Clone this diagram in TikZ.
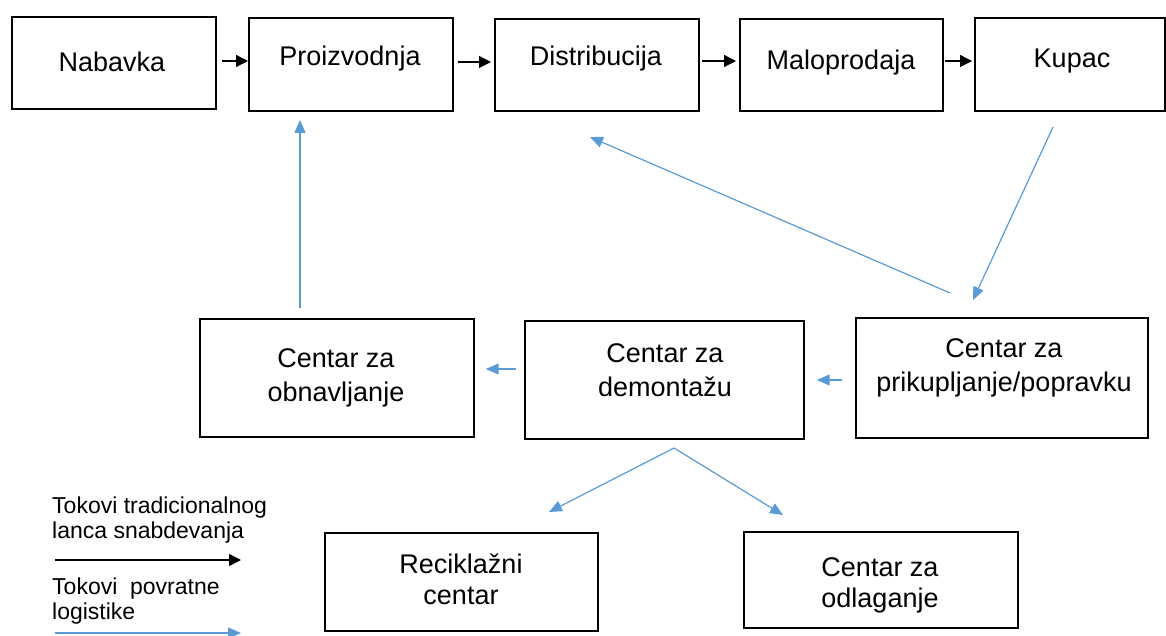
\documentclass[tikz,border=0pt]{standalone}
\usepackage{fontspec}
\setmainfont{Liberation Sans}
\usetikzlibrary{arrows.meta}
\definecolor{rlblue}{HTML}{5B9BD5}
\begin{document}
\begin{tikzpicture}[x=1pt,y=-1pt,
  box/.style={draw=black, line width=1.7pt, anchor=north west, inner sep=0pt},
  txt/.style={font=\fontsize{27}{34}\selectfont, align=center, anchor=base, inner sep=0pt},
  txtb/.style={font=\fontsize{27}{31}\selectfont, align=center, anchor=base, inner sep=0pt},
  leg/.style={font=\fontsize{23}{24.5}\selectfont, align=left, anchor=base west, inner sep=0pt},
  blk/.style={draw=black, line width=1.3pt, -{Triangle[length=12pt,width=12pt]}},
  blu/.style={draw=rlblue, line width=1.2pt, -{Triangle[length=13pt,width=11pt]}}]
\path[use as bounding box, fill=white] (0,0) rectangle (1166,636);

% top row
\node[box, minimum width=204pt, minimum height=92pt] (nab) at (11,16) {};
\node[box, minimum width=204pt, minimum height=93pt] (pro) at (248,17) {};
\node[box, minimum width=204pt, minimum height=92pt] (dis) at (494,18) {};
\node[box, minimum width=203pt, minimum height=92pt] (mal) at (739,18) {};
\node[box, minimum width=190pt, minimum height=93pt] (kup) at (974,17) {};
\node[txt] (tnab) at (112,72) {Nabavka};
\node[txt] (tpro) at (350,66) {Proizvodnja};
\node[txt] (tdis) at (596,66) {Distribucija};
\node[txt] (tmal) at (841,70) {Maloprodaja};
\node[txt] (tkup) at (1072,68) {Kupac};

% middle row
\node[box, minimum width=274pt, minimum height=118pt] (obn) at (199,318) {};
\node[box, minimum width=279pt, minimum height=118pt] (dem) at (524,320) {};
\node[box, minimum width=292pt, minimum height=120pt] (pri) at (855,317) {};
\node[txt] (tobn) at (336,401) {Centar za\\obnavljanje};
\node[txt] (tdem) at (665,396) {Centar za\\demontažu};
\node[txt] (tpri) at (1004,391) {Centar za\\prikupljanje/popravku};

% bottom row
\node[box, minimum width=273pt, minimum height=98pt] (rec) at (324,532) {};
\node[box, minimum width=274pt, minimum height=96pt] (odl) at (743,531) {};
\node[txtb] (trec) at (461,604) {Reciklažni\\centar};
\node[txtb] (todl) at (880,607) {Centar za\\odlaganje};

% black arrows
\draw[blk] ([xshift=5pt]nab.east |- 0,61) -- (pro.west |- 0,61);
\draw[blk] ([xshift=4pt]pro.east |- 0,62) -- ([xshift=-3pt]dis.west |- 0,62);
\draw[blk] ([xshift=2pt]dis.east |- 0,61) -- ([xshift=-3pt]mal.west |- 0,61);
\draw[blk] ([xshift=1pt]mal.east |- 0,61) -- ([xshift=-2pt]kup.west |- 0,61);

% blue arrows
\coordinate (apex) at (674,448);
\draw[blu] ([xshift=-8pt]dem.west |- 0,369) -- ([xshift=11pt]obn.east |- 0,369);
\draw[blu] ([xshift=-13pt]pri.west |- 0,380) -- ([xshift=12pt]dem.east |- 0,380);
\draw[blu] (obn.north -| 300,0) ++(0,-10) -- (300,120);
\draw[blu] (950,293) -- (590,137);
\draw[blu] (1053,127) -- (973,300);
\draw[blu] (apex) -- (549,512);
\draw[blu] (apex) -- (783,515);

% legend
\node[leg] (l1) at (52,538) {Tokovi tradicionalnog\\lanca snabdevanja};
\node[leg] (l2) at (52,619) {Tokovi\ \ povratne\\logistike};
\coordinate (la) at (55,560);
\coordinate (lb) at (241,560);
\coordinate (lc) at (55,633);
\coordinate (ld) at (241,633);
\draw[blk] (la) -- (lb);
\draw[blu] (lc) -- (ld);
\end{tikzpicture}
\end{document}
